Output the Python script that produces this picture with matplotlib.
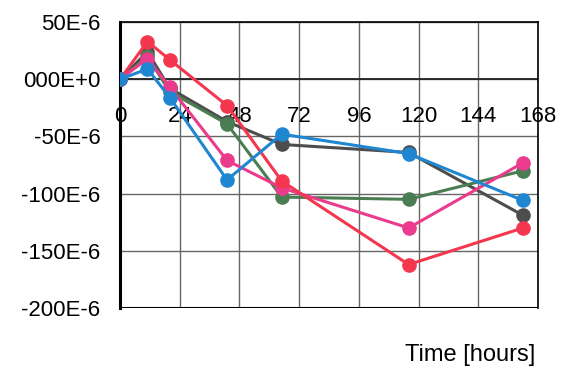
import matplotlib.pyplot as plt

plt.rcParams['font.family'] = ['Liberation Sans', 'DejaVu Sans']

hours = [0, 11, 20, 43, 65, 116, 162]
gray = [0, 24, -8, -37, -57, -64, -119]
green = [0, 20, -11, -39, -103, -105, -80]
pink = [0, 18, -7, -71, -95, -130, -73]
red = [0, 33, 17, -23, -89, -162, -130]
blue = [0, 9, -16, -88, -48, -65, -106]

series = [
    (gray, '#4d4d4d'),
    (green, '#4a7d52'),
    (pink, '#ea3b8c'),
    (red, '#f4364f'),
    (blue, '#1f86d2'),
]

yticks = [50, 0, -50, -100, -150, -200]
ylabels = ['50E-6', '000E+0', '-50E-6', '-100E-6', '-150E-6', '-200E-6']
xticks = [0, 24, 48, 72, 96, 120, 144, 168]

fig = plt.figure(figsize=(5.69, 3.74), dpi=100)
ax = fig.add_axes([0.211, 0.1765, 0.7345, 0.7645])

for vals, col in series:
    ax.plot(hours, vals, color=col, lw=2.2, marker='o', ms=9.5, zorder=3)

ax.set_xlim(0, 168)
ax.set_ylim(-200, 50)
ax.set_xticks(xticks)
ax.set_yticks(yticks)
ax.set_yticklabels(ylabels)
ax.grid(True, color='#666666', lw=1)
ax.axhline(0, color='#222222', lw=1.3, zorder=2)
ax.axhline(-200, color='black', lw=1.5, zorder=2)

ax.spines['bottom'].set_position(('data', 0))
ax.spines['bottom'].set_color('none')
ax.spines['left'].set_linewidth(2.2)
ax.spines['top'].set_linewidth(1.2)
ax.spines['right'].set_linewidth(1.2)
ax.tick_params(axis='x', length=0, pad=19, labelsize=16)
ax.tick_params(axis='y', length=0, pad=14, labelsize=16)

fig.text(0.94, 0.05, 'Time [hours]', ha='right', va='center', fontsize=17)

plt.savefig('out.png')
plt.close()
